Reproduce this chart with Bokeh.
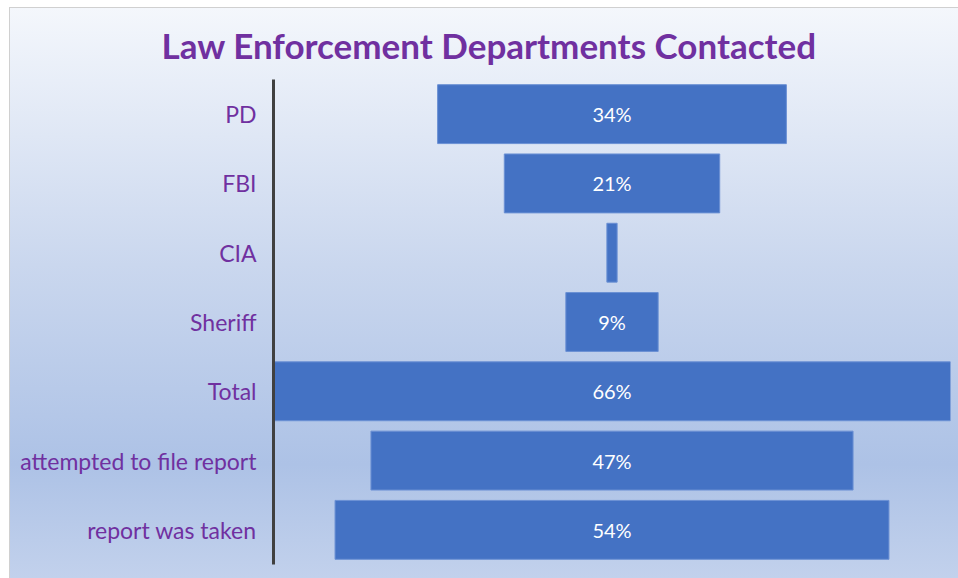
from bokeh.plotting import figure
from bokeh.models import ColumnDataSource, FactorRange
from bokeh.core.properties import value
from bokeh.embed import file_html
from bokeh.resources import INLINE

categories = ["PD", "FBI", "CIA", "Sheriff", "Total", "attempted to file report", "report was taken"]
percents = [34, 21, 1, 9, 66, 47, 54]
bar_labels = ["34%", "21%", "", "9%", "66%", "47%", "54%"]

src = ColumnDataSource(dict(
    cat=categories,
    left=[-v / 2 for v in percents],
    right=[v / 2 for v in percents],
    label=bar_labels,
    x=[0] * len(categories),
))

p = figure(width=949, height=571, output_backend="svg", toolbar_location=None,
           y_range=FactorRange(factors=list(reversed(categories)), range_padding=0),
           x_range=(-33, 33),
           min_border_left=263, min_border_right=9, min_border_top=71, min_border_bottom=15)

p.styles = {"background": "linear-gradient(to bottom, #f4f7fc 0%, #cad7ee 45%, #adc2e6 80%, #c2d1ec 100%)",
            "border-left": "1px solid #d0d0d0", "border-top": "1px solid #d0d0d0",
            "box-sizing": "border-box", "margin-left": "9px", "margin-top": "7px"}
p.background_fill_color = None
p.border_fill_color = None
p.outline_line_color = None

p.hbar(y="cat", left="left", right="right", height=0.85, source=src,
       fill_color="#4472c4", line_color="#6b90d4", line_width=1)
p.text(x="x", y="cat", text="label", source=src, text_align="center", text_baseline="middle",
       text_color="white", text_font=value("Lato"), text_font_size="20px")

p.title.text = "Law Enforcement Departments Contacted"
p.title.text_font = "Lato"
p.title.text_font_style = "bold"
p.title.text_font_size = "35px"
p.title.text_color = "#7030a0"
p.title.align = "left"
p.title.offset = -112
p.title.standoff = 27

p.xaxis.visible = False
p.xgrid.visible = False
p.ygrid.visible = False
yax = p.yaxis[0]
yax.axis_line_color = "#404040"
yax.axis_line_width = 3
yax.major_tick_line_color = None
yax.minor_tick_line_color = None
yax.major_label_text_color = "#7030a0"
yax.major_label_text_font = "Lato"
yax.major_label_text_font_size = "23px"
yax.major_label_standoff = 11

open("out.html", "w").write(file_html(p, INLINE))
